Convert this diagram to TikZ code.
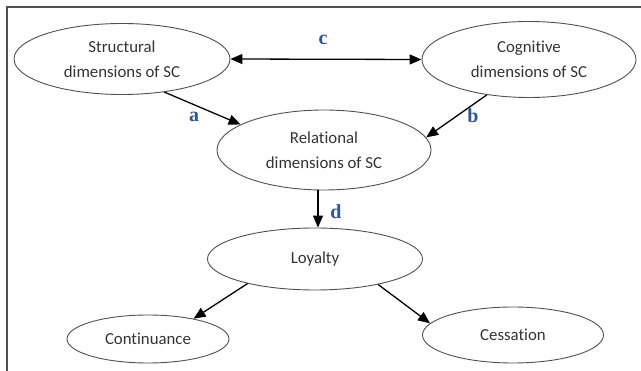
\documentclass[tikz,border=0pt]{standalone}
\usepackage{fontspec}
\setmainfont[Ligatures=NoCommon]{Carlito}
\newfontfamily\labfont{Liberation Serif}
\usetikzlibrary{shapes.geometric,arrows.meta}
\definecolor{labblue}{HTML}{2E5597}
\definecolor{edgegray}{HTML}{505050}
\definecolor{txtgray}{HTML}{333333}
\tikzset{
  ell/.style={ellipse, draw=edgegray, line width=0.9pt, inner sep=0pt,
    align=center, text=txtgray, font=\fontsize{16.8}{25}\selectfont},
  arr/.style={-{Triangle[length=12pt,width=10pt]}, line width=1.3pt, black},
  darr/.style={{Triangle[length=12pt,width=10pt]}-{Triangle[length=12pt,width=10pt]}, line width=1.3pt, black},
  lab/.style={text=labblue, font=\labfont\bfseries\fontsize{20}{20}\selectfont, inner sep=0pt},
  frame/.style={draw=edgegray, line width=1.3pt}
}
\begin{document}
\begin{tikzpicture}[x=1pt,y=-1pt]
\useasboundingbox (0,0) rectangle (641,371);
\coordinate (ftop) at (641,7);
\coordinate (fcorner) at (7,7);
\coordinate (fbot) at (7,371);
\draw[frame] (ftop) -- (fcorner) -- (fbot);

\node[ell, minimum width=216pt, minimum height=71pt] (s) at (122,59) {Structural\\dimensions of SC};
\node[ell, minimum width=214pt, minimum height=76pt] (c) at (529,59.5) {Cognitive\\dimensions of SC};
\node[ell, minimum width=214pt, minimum height=80pt] (r) at (324,150) {Relational\\dimensions of SC};
\node[ell, minimum width=215pt, minimum height=62pt] (l) at (315,259) {Loyalty};
\node[ell, minimum width=162pt, minimum height=48pt] (co) at (148,339) {Continuance};
\node[ell, minimum width=181pt, minimum height=56pt] (ce) at (513,335) {Cessation};

\draw[darr] (s.east) -- (c.west);
\draw[arr] (s.-38) -- (r.163);
\draw[arr] (c.-140) -- (r.7);
\draw[arr] ([xshift=-6pt]r.south) -- ([xshift=3pt]l.north);
\draw[arr] (l.-160) -- (co.24);
\draw[arr] (l.-22) -- (ce.172);

\node[lab] (lc) at (323,40) {c};
\node[lab] (la) at (194,117) {a};
\node[lab] (lb) at (473,116) {b};
\node[lab] (ld) at (336,212) {d};
\end{tikzpicture}
\end{document}
